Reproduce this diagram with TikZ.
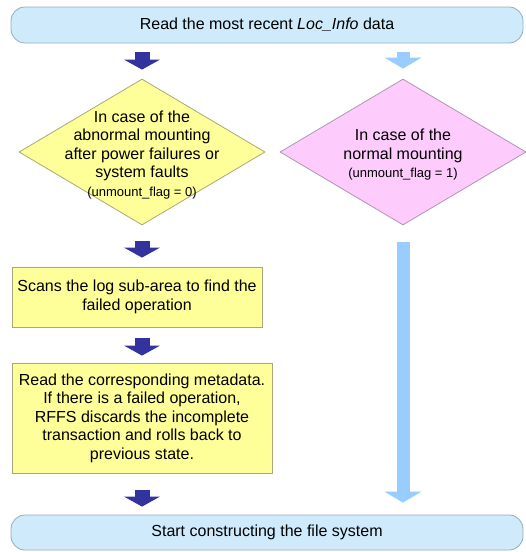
\documentclass[tikz,border=0pt]{standalone}
\usepackage{fontspec}
\setmainfont{Liberation Sans}
\usetikzlibrary{arrows.meta, positioning, shapes.geometric}
\definecolor{bannerFill}{RGB}{206,234,251}
\definecolor{bannerLine}{RGB}{150,172,188}
\definecolor{yellowFill}{RGB}{255,255,153}
\definecolor{yellowLine}{RGB}{168,168,120}
\definecolor{pinkFill}{RGB}{253,204,253}
\definecolor{pinkLine}{RGB}{175,150,175}
\definecolor{arrowDark}{RGB}{51,51,160}
\definecolor{arrowLight}{RGB}{153,204,255}

\begin{document}
\begin{tikzpicture}[x=1pt, y=1pt, node distance=2cm, font=\fontsize{16}{18.5}\selectfont]
	\tikzstyle{startstop} = [rectangle, rounded corners=14pt, minimum width=512pt, 
	minimum height=36pt, text centered, draw=bannerLine, fill=bannerFill, line width=0.8pt]
	\tikzstyle{decision} = [diamond, minimum width=246pt, minimum height=146pt, 
	inner sep=0pt, line width=0.8pt]
	\tikzstyle{process} = [rectangle, align=center, inner sep=2pt, 
	draw=yellowLine, fill=yellowFill, line width=0.8pt]
	\tikzstyle{darkarrow} = [line width=15pt, draw=arrowDark, 
	-{Triangle[width=36pt, length=10pt, line width=0pt]}]
	\tikzstyle{lightarrow} = [line width=13pt, draw=arrowLight, 
	-{Triangle[width=37pt, length=11pt, line width=0pt]}]
	\useasboundingbox (0,0) rectangle (526,-552);
	\node (readLoc) [startstop] at (267,-25) {Read the most recent \textit{Loc\_Info} data};
	\node (abnormal) [decision, draw=yellowLine, fill=yellowFill, below of=readLoc, 
	node distance=127pt, xshift=-125pt] {};
	\node (normal) [decision, draw=pinkLine, fill=pinkFill, right of=abnormal, 
	node distance=261pt] {};
	\node (abnormalText) [align=center, yshift=-3pt] at (abnormal) {In case of the\\abnormal mounting\\
	after power failures or\\system faults\\{\fontsize{13}{15}\selectfont (unmount\_flag = 0)}};
	\node (normalText) [align=center, yshift=-3pt] at (normal) {In case of the\\normal mounting\\
	{\fontsize{13}{15}\selectfont (unmount\_flag = 1)}};
	\node (scanLog) [process, minimum width=250pt, minimum height=60pt, below of=abnormal, 
	node distance=145pt, xshift=-5pt] {Scans the log sub-area to find the\\failed operation};
	\node (rollBack) [process, minimum width=260pt, minimum height=110pt, below of=scanLog, 
	node distance=121pt, xshift=5pt] {Read the corresponding metadata.\\If there is a failed operation,\\
	RFFS discards the incomplete\\transaction and rolls back to\\previous state.};
	\node (startFS) [startstop, minimum height=35pt, below of=rollBack, node distance=114.5pt, 
	xshift=125pt] {Start constructing the file system};
	\draw [darkarrow, shorten <=9pt, shorten >=9pt] (readLoc.south -| abnormal.north) -- (abnormal.north);
	\draw [darkarrow, shorten <=16pt, shorten >=9pt] (abnormal.south) -- (scanLog.north -| abnormal.south);
	\draw [darkarrow, shorten <=11pt, shorten >=7pt] (scanLog.south -| rollBack.north) -- (rollBack.north);
	\draw [darkarrow, shorten <=17pt, shorten >=8pt] (rollBack.south) -- (startFS.north -| rollBack.south);
	\draw [lightarrow, shorten <=9pt, shorten >=10pt] (readLoc.south -| normal.north) -- (normal.north);
	\draw [lightarrow, shorten <=17pt, shorten >=12pt] (normal.south) -- (startFS.north -| normal.south);
\end{tikzpicture}
\end{document}
